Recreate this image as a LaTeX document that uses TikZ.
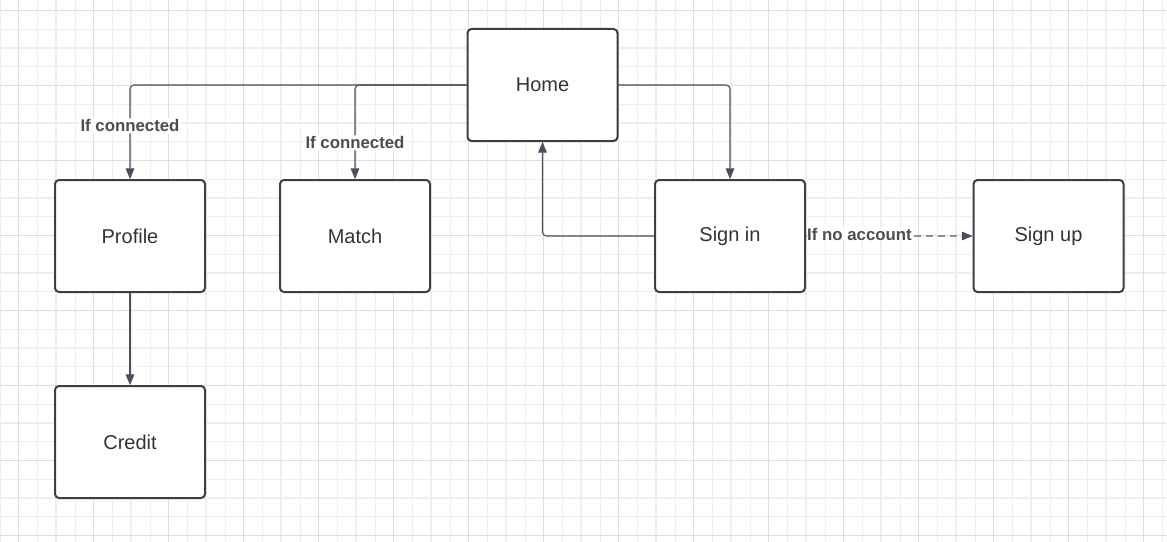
\documentclass[tikz,border=0pt]{standalone}
\usepackage{fontspec}
\setmainfont{Liberation Sans}
\usetikzlibrary{arrows.meta}
\definecolor{boxline}{HTML}{3A3F4A}
\definecolor{connline}{HTML}{4A4F5A}
\definecolor{dashline}{HTML}{8A8F98}
\definecolor{txt}{HTML}{333333}
\definecolor{lbltxt}{HTML}{4D4D4D}
\definecolor{gminor}{HTML}{EEEEEE}
\definecolor{gdark}{HTML}{DDDDDD}
\tikzset{
  stepbox/.style={draw=boxline, line width=1.5pt, rounded corners=3pt, fill=white,
    minimum width=112.5pt, minimum height=84pt, inner sep=0pt, text=txt,
    font=\fontsize{15pt}{18pt}\selectfont},
  conn/.style={draw=connline, line width=0.85pt, rounded corners=3pt,
    -{Triangle[length=8pt,width=6.5pt]}},
  dashconn/.style={draw=dashline, line width=0.85pt, dash pattern=on 5.5pt off 3.5pt,
    -{Triangle[length=8pt,width=6.5pt,color=connline]}},
  lbl/.style={text=lbltxt, font=\bfseries\fontsize{12.6pt}{14pt}\selectfont,
    fill=white, inner sep=1pt},
  gridminor/.style={draw=gminor, line width=0.75pt},
  griddark/.style={draw=gdark, line width=0.75pt},
  gridthick/.style={draw=gminor, line width=1.6pt}
}
\begin{document}
\begin{tikzpicture}[x=0.75pt,y=-0.75pt]
\useasboundingbox (0,0) rectangle (1167,542);
\fill[white] (0,0) rectangle (1167,542);
% grid
\foreach \i in {0,...,62} \draw[gridminor] ({\i*18.75},0) -- ({\i*18.75},542);
\foreach \j in {0,...,28} \draw[gridminor] (0,{10.5+\j*18.75}) -- (1167,{10.5+\j*18.75});
\foreach \i in {0,...,15} \draw[gridthick] ({56.25+\i*75},0) -- ({56.25+\i*75},542);
\foreach \j in {0,...,6} \draw[gridthick] (0,{48+\j*75}) -- (1167,{48+\j*75});
\foreach \i in {0,...,15} \draw[griddark] ({18.75+\i*75},0) -- ({18.75+\i*75},542);
\foreach \j in {0,...,7} \draw[griddark] (0,{10.5+\j*75}) -- (1167,{10.5+\j*75});
% nodes
\node[stepbox] (home) at (542.5,85) {Home};
\node[stepbox] (profile) at (130,236) {Profile};
\node[stepbox] (match) at (355,236) {Match};
\node[stepbox] (signin) at (730,236) {Sign in};
\node[stepbox] (signup) at (1048.5,236) {Sign up};
\node[stepbox] (credit) at (130,442) {Credit};
% connectors
\draw[conn] (home.west) -| node[lbl, pos=0.718] (l1) {If connected} (profile.north);
\draw[conn] (home.west) -| node[lbl, pos=0.808] (l2) {If connected} (match.north);
\draw[conn] (home.east) -| (signin.north);
\draw[conn] (signin.west) -| (home.south);
\draw[conn] (profile.south) -- (credit.north);
\draw[dashconn] (signin.east) -- node[lbl, pos=0, anchor=west, yshift=1.5pt, inner sep=0.5pt] (l3) {If no account} (signup.west);
\end{tikzpicture}
\end{document}
